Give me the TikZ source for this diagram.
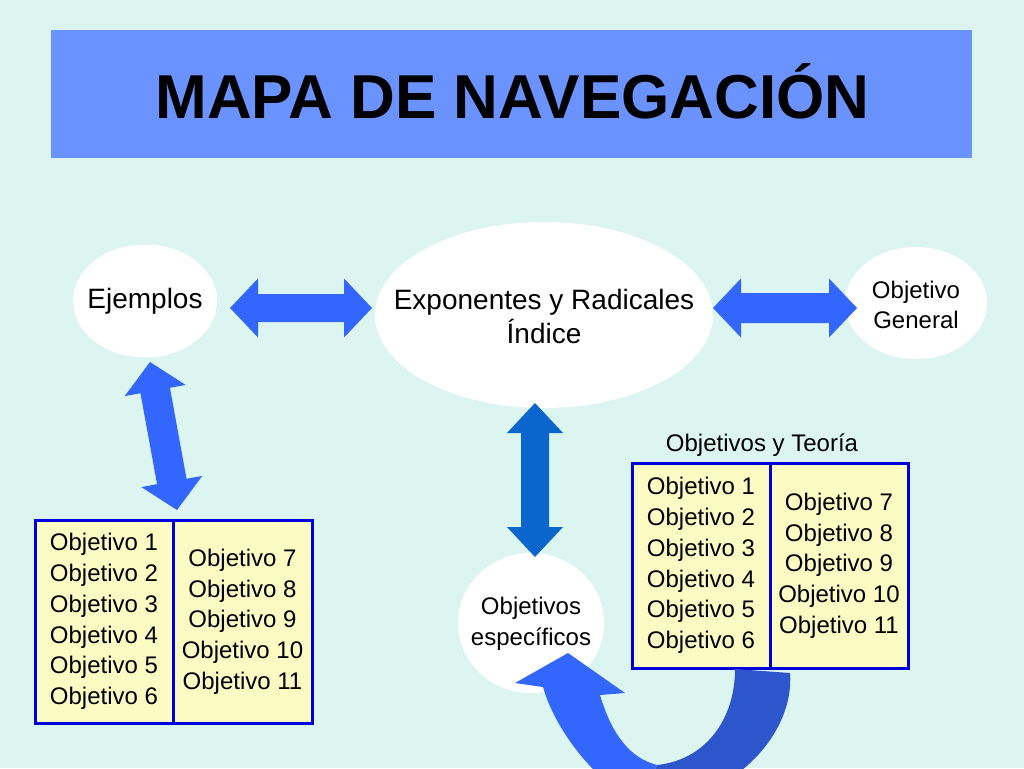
\documentclass[tikz,border=0pt]{standalone}
\usepackage{fontspec}
\setmainfont{Liberation Sans}
\usetikzlibrary{calc,shapes.geometric}
\definecolor{bgc}{HTML}{DDF5F1}
\definecolor{titlec}{HTML}{6B93FF}
\definecolor{arrowc}{HTML}{3366FF}
\definecolor{varrowc}{HTML}{0A66CC}
\definecolor{darkarrowc}{HTML}{2D55CC}
\definecolor{tborder}{HTML}{0000DD}
\definecolor{tfill}{HTML}{FBFBC3}
% #1 fill style, #2 tip A, #3 tip B, #4 head length, #5 head half width, #6 shaft half width
\newcommand{\blockarrow}[6]{%
  \fill[#1] (#2)
    -- ($(#2)!#4!(#3)!#5!90:(#3)$)
    -- ($(#2)!#4!(#3)!#6!90:(#3)$)
    -- ($(#3)!#4!(#2)!#6!-90:(#2)$)
    -- ($(#3)!#4!(#2)!#5!-90:(#2)$)
    -- (#3)
    -- ($(#3)!#4!(#2)!#5!90:(#2)$)
    -- ($(#3)!#4!(#2)!#6!90:(#2)$)
    -- ($(#2)!#4!(#3)!#6!-90:(#3)$)
    -- ($(#2)!#4!(#3)!#5!-90:(#3)$)
    -- cycle;}
\begin{document}
\begin{tikzpicture}[x=1pt,y=-1pt,
  bubble/.style={ellipse, fill=white, draw=none, inner sep=0pt},
  bigtxt/.style={font=\fontsize{28}{34}\selectfont, align=center, inner sep=0pt},
  smalltxt/.style={font=\fontsize{24}{30.5}\selectfont, align=center, inner sep=0pt},
  cell/.style={rectangle, draw=tborder, fill=tfill, line width=3pt, inner sep=0pt,
    minimum height=203pt, font=\fontsize{24}{30.7}\selectfont, align=center}
]
\fill[bgc] (0,0) rectangle (1024,768);
\useasboundingbox (0,0) rectangle (1024,768);

% title
\node[rectangle, fill=titlec, minimum width=921pt, minimum height=128pt, inner sep=0pt] (titlebar) at (511.5,94) {};
\node[anchor=base, inner sep=0pt, font=\fontsize{62}{70}\selectfont\bfseries] (title) at (512.5,118) {MAPA DE NAVEGACIÓN};

% bubbles
\node[bubble, minimum width=144pt, minimum height=113pt] (ej) at (145,301) {};
\node[bigtxt] (ejT) at (ej) {Ejemplos};
\node[bubble, minimum width=338pt, minimum height=186pt] (expo) at (544,315) {};
\node[bigtxt] (expoT) at (544,316) {Exponentes y Radicales\\Índice};
\node[bubble, minimum width=142pt, minimum height=112pt] (gen) at (916,303) {};
\node[smalltxt, font=\fontsize{24}{30}\selectfont] (genT) at (916,305) {Objetivo\\General};
\node[bubble, minimum width=146pt, minimum height=140pt] (esp) at (531,623) {};
\node[smalltxt, font=\fontsize{24}{31}\selectfont] (espT) at (531,624) {Objetivos\\específicos};

% tables
\node[cell, minimum width=138pt] (l1) at (104,621.5) {Objetivo 1\\Objetivo 2\\Objetivo 3\\Objetivo 4\\Objetivo 5\\Objetivo 6};
\node[cell, minimum width=139pt] (l2) at (242.5,621.5) {Objetivo 7\\Objetivo 8\\Objetivo 9\\Objetivo 10\\Objetivo 11};
\node[cell, minimum width=138pt, minimum height=205pt] (r1) at (701,565.5) {Objetivo 1\\Objetivo 2\\Objetivo 3\\Objetivo 4\\Objetivo 5\\Objetivo 6};
\node[cell, minimum width=138pt, minimum height=205pt] (r2) at (839,565.5) {Objetivo 7\\Objetivo 8\\Objetivo 9\\Objetivo 10\\Objetivo 11};
\node[smalltxt] (rtitle) at (762,445) {Objetivos y Teoría};

% connector end points
\coordinate (a1) at (230,308);
\coordinate (a2) at (372,308);
\coordinate (b1) at (713,308);
\coordinate (b2) at (857,308);
\coordinate (c1) at (150,362);
\coordinate (c2) at (177,510);
\coordinate (d1) at (535,403);
\coordinate (d2) at (535,557);

\blockarrow{arrowc}{a1}{a2}{28pt}{29.5pt}{14pt}
\blockarrow{arrowc}{b1}{b2}{28pt}{29.5pt}{15pt}
\blockarrow{arrowc}{c1}{c2}{29pt}{31pt}{15pt}
\blockarrow{varrowc}{d1}{d2}{30pt}{28pt}{14pt}

% curved arrow from the right table back to the specific objectives
\begin{scope}
\clip (0,0) rectangle (1024,768);
\coordinate (ctip) at (568,653);
\coordinate (ccusp) at (657,765);
\fill[darkarrowc] (735,669) .. controls (735,720) and (705,760) .. (ccusp)
  -- (642,805) .. controls (730,805) and (795,735) .. (790,673) -- cycle;
\fill[arrowc] (ctip) -- (625,693) -- (600,695)
  .. controls (612,735) and (630,758) .. (ccusp)
  -- (642,805) .. controls (597,785) and (555,730) .. (543,687)
  -- (515,683) -- cycle;
\end{scope}
\end{tikzpicture}
\end{document}
